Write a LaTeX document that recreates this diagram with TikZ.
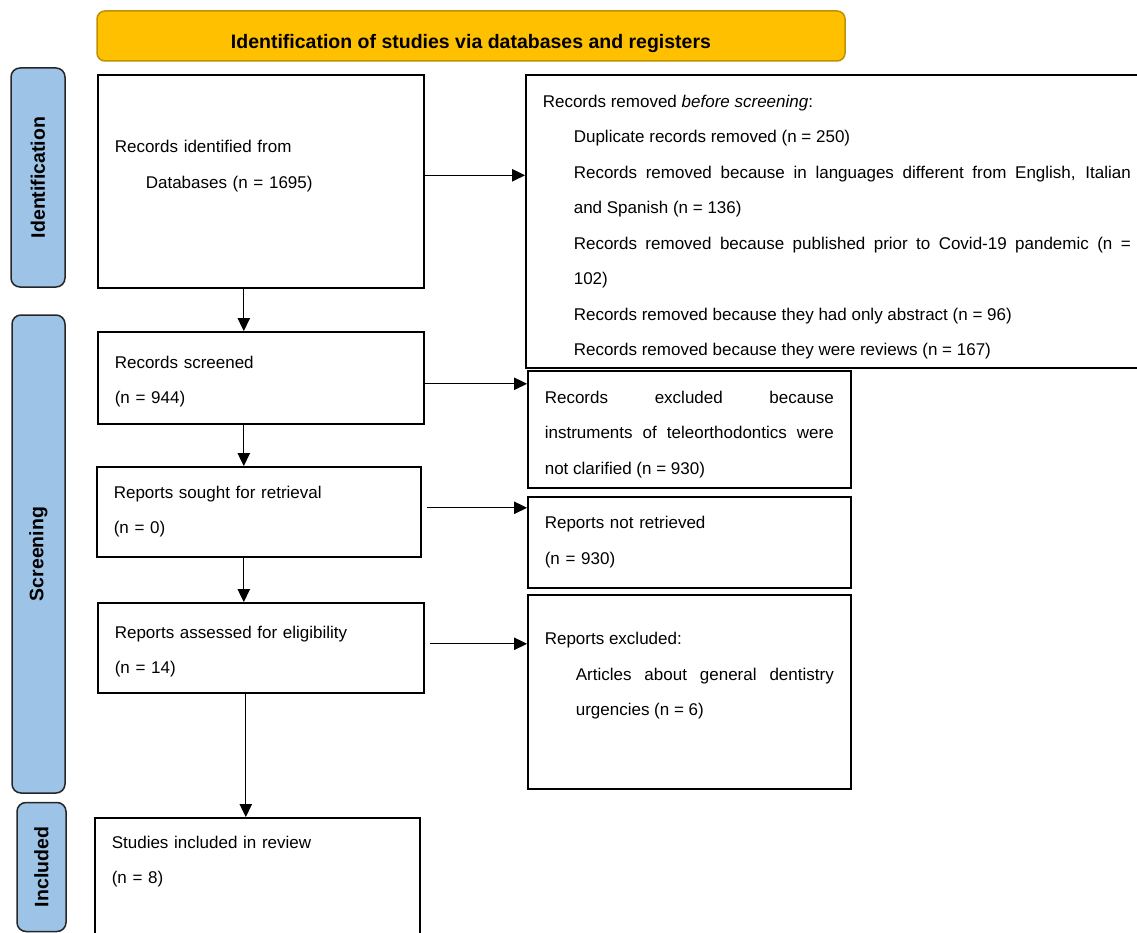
\documentclass[tikz,border=0pt]{standalone}
\usepackage{fontspec}
\setmainfont{Liberation Sans}
\usetikzlibrary{arrows.meta}
\definecolor{headgold}{RGB}{255,192,0}
\definecolor{headedge}{RGB}{191,144,0}
\definecolor{sideblue}{RGB}{157,195,230}
\definecolor{sideedge}{RGB}{38,38,38}

\begin{document}
\tolerance=9999 \hbadness=10000 \hyphenpenalty=10000 \exhyphenpenalty=10000
\begin{tikzpicture}[x = 1pt, y = -1pt,
  every node/.style={font=\fontsize{17}{35.5}\selectfont},
  stage/.style={draw, line width=1.6pt, anchor=north west, inner xsep=17pt, inner ysep=0pt},
  sidelabel/.style={draw=sideedge, fill=sideblue, line width=1.5pt, rounded corners=9pt, rotate=90, inner sep=0pt, font=\fontsize{19.5}{23}\selectfont\bfseries},
  arr/.style={line width=1.1pt, -{Triangle[length=13pt, width=12.5pt]}}]
\useasboundingbox (0, 0) rectangle (1137, 933);

\node[draw=headedge, fill=headgold, line width=1.5pt, rounded corners=8pt, minimum width=748pt, minimum height=50pt, text height=30pt, text depth=4pt, inner ysep=0pt, font=\fontsize{19.5}{23}\selectfont\bfseries] (head) at (471, 36) {Identification of studies via databases and registers};

\node[sidelabel, minimum width=219pt, minimum height=54pt] (identlab) at (38, 177.5) {Identification};
\node[sidelabel, minimum width=478pt, minimum height=53pt] (screenlab) at (38.5, 554) {Screening};
\node[sidelabel, minimum width=129pt, minimum height=49pt] (inclab) at (41.5, 867) {Included};

\node[stage, text width=292pt, minimum height=213pt, align=left] (idbox) at (97, 74) {Records identified from\\ \hspace*{31pt}Databases (n = 1695)\rule[-34pt]{0pt}{1pt}};

\node[stage, text width=292pt, minimum height=92pt, align=left] (screened) at (97, 331) {\rule{0pt}{20pt}Records screened\\(n = 944)};

\node[stage, text width=290pt, minimum height=90pt, align=left] (sought) at (96, 466) {Reports sought for retrieval\\(n = 0)};

\node[stage, text width=292pt, minimum height=90pt, align=left] (assessed) at (97, 602) {\rule{0pt}{20pt}Reports assessed for eligibility\\(n = 14)};

\node[stage, text width=291pt, minimum height=150pt, align=left] (included) at (94, 817) {Studies included in review\\(n = 8)\rule[-66pt]{0pt}{1pt}};

\node[stage, text width=588pt, minimum height=293pt, align=justify] (removed) at (525, 74) {\rule{0pt}{24pt}Records removed \textit{before screening}:\par
\leftskip=31pt Duplicate records removed (n = 250)\par
Records removed because in languages different from English, Italian\linebreak and Spanish (n = 136)\par
Records removed because published prior to Covid-19 pandemic (n =\linebreak 102)\par
Records removed because they had only abstract (n = 96)\par
Records removed because they were reviews (n = 167)\par};

\node[stage, text width=289pt, minimum height=117pt, align=justify] (excluded) at (527, 370) {\rule{0pt}{22pt}Records excluded because\linebreak instruments of teleorthodontics were\linebreak not clarified (n = 930)};

\node[stage, text width=289pt, minimum height=91pt, align=left] (notret) at (527, 496) {Reports not retrieved\\(n = 930)};

\node[stage, text width=289pt, minimum height=194pt, align=justify] (repexcl) at (527, 594) {Reports excluded:\par
\leftskip=31pt Articles about general dentistry\linebreak urgencies (n = 6)\rule[-35pt]{0pt}{1pt}\par};

\draw[arr] ([xshift=-17pt]idbox.south) -- ([xshift=-17pt]screened.north);
\draw[arr] ([xshift=-17pt]screened.south) -- ([xshift=-15pt]sought.north);
\draw[arr] ([xshift=-15pt]sought.south) -- ([xshift=-17pt]assessed.north);
\draw[arr] ([xshift=-15pt]assessed.south) -- ([xshift=-15pt]assessed.south |- included.north);

\draw[arr] ([yshift=6pt]idbox.east) -- ([yshift=6pt]idbox.east -| removed.west);
\draw[arr] ([yshift=-6pt]screened.east) -- ([yshift=-6pt]screened.east -| excluded.west);
\draw[arr, shorten <=5pt] ([yshift=4pt]sought.east) -- ([yshift=4pt]sought.east -| notret.west);
\draw[arr, shorten <=5pt] ([yshift=4pt]assessed.east) -- ([yshift=4pt]assessed.east -| repexcl.west);

\end{tikzpicture}
\end{document}
